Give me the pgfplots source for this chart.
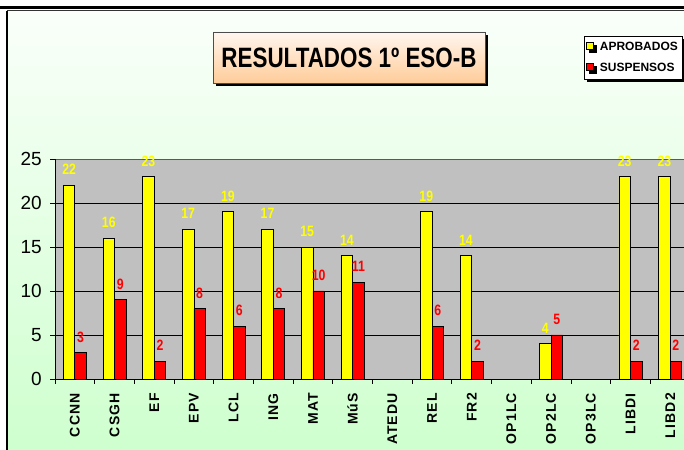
\documentclass[border=0pt]{standalone}
\usepackage{fontspec}
\setmainfont{Liberation Sans}
\usepackage{graphicx}
\usepackage{pgfplots}
\pgfplotsset{compat=1.18}
\usetikzlibrary{shadows}

\definecolor{plotgray}{RGB}{192,192,192}
\definecolor{barY}{RGB}{255,255,0}
\definecolor{barR}{RGB}{255,0,0}
\definecolor{bgtop}{RGB}{250,255,250}
\definecolor{bgbot}{RGB}{204,255,204}
\definecolor{peachtop}{RGB}{255,246,238}
\definecolor{peachbot}{RGB}{255,204,153}

\begin{document}
\begin{tikzpicture}
\useasboundingbox (0pt,0pt) rectangle (684pt,449pt);
\clip (0pt,0pt) rectangle (684pt,449pt);
\fill[white] (0pt,0pt) rectangle (684pt,449pt);
% chart area with gradient
\shade[top color=bgtop, bottom color=bgbot] (7pt,-20pt) rectangle (700pt,438pt);
\draw[black, line width=2pt] (7pt,-20pt) -- (7pt,438pt);
\draw[gray!40!black, line width=1pt] (7pt,438pt) -- (700pt,438pt);
\draw[black, line width=2.2pt] (0pt,441.5pt) -- (684pt,441.5pt);
% title box
\fill[black] (216pt,363pt) rectangle (488pt,414pt);
\shadedraw[top color=peachtop, bottom color=peachbot, draw=gray!60!black, line width=0.8pt]
  (213pt,366pt) rectangle (485pt,417pt);
\node at (349pt,391pt) {\fontsize{28}{28}\selectfont\bfseries\scalebox{0.8}[1]{RESULTADOS 1º ESO-B}};

\begin{axis}[
    at={(55pt,70pt)}, anchor=south west,
    scale only axis, width=635pt, height=220pt,
    xmin=-0.5, xmax=15.5, ymin=0, ymax=25,
    ybar=0pt, bar width=11.5pt,
    axis background/.style={fill=plotgray, draw=gray!70!black, line width=0.8pt},
    axis x line*=bottom, axis y line*=left,
    axis line style={black, line width=0.8pt},
    ymajorgrids, grid style={black, line width=0.7pt},
    ytick={0,5,10,15,20}, extra y ticks={25}, extra y tick style={grid=none},
    xtick={-0.5,0.5,...,15.5}, xticklabels={},
    extra x ticks={0,1,...,15},
    extra x tick labels={CCNN,CSGH,EF,EPV,LCL,ING,MAT,MúS,ATEDU,REL,FR2,OP1LC,OP2LC,OP3LC,LIBDI,LIBD2},
    extra x tick style={major tick length=0pt},
    tick pos=left, tick align=outside, major tick length=5pt,
    tick style={black, line width=0.8pt},
    /pgf/number format/assume math mode=true,
    yticklabel style={font=\fontsize{19}{19}\selectfont, inner sep=0pt, anchor=east, xshift=-8pt},
    xticklabel style={font=\fontsize{14}{14}\selectfont\bfseries\addfontfeature{LetterSpace=8}, rotate=90, anchor=east, inner sep=0pt},
    xticklabel shift=14pt,
    nodes near coords={\scalebox{0.82}[1]{\pgfmathprintnumber{\pgfplotspointmeta}}},
    every node near coord/.append style={font=\fontsize{15}{15}\selectfont\bfseries, anchor=south, inner sep=0pt, yshift=10pt},
    legend cell align=left,
    legend style={at={(axis description cs:0.833,1.559)}, anchor=north west,
      draw=black, line width=0.6pt, fill=white,
      font=\fontsize{12}{12}\selectfont\bfseries,
      drop shadow={shadow xshift=3pt, shadow yshift=-3pt, fill=black, opacity=1},
      /tikz/every odd column/.append style={column sep=4pt},
      row sep=7pt, inner xsep=2pt, inner ysep=4pt},
  ]
  \addplot[fill=barY, draw=black, line width=0.8pt,
    every node near coord/.append style={text=barY},
    legend image code/.code={\draw[fill=barY, draw=black, line width=0.6pt] (0pt,-2.5pt) rectangle (7pt,4.5pt);}]
    table {
      x y
      0 22
      1 16
      2 23
      3 17
      4 19
      5 17
      6 15
      7 14
      9 19
      10 14
      12 4
      14 23
      15 23
    };
  \addlegendentry{APROBADOS}
  \addplot[fill=barR, draw=black, line width=0.8pt,
    every node near coord/.append style={text=barR},
    legend image code/.code={\draw[fill=barR, draw=black, line width=0.6pt] (0pt,-2.5pt) rectangle (7pt,4.5pt);}]
    table {
      x y
      0 3
      1 9
      2 2
      3 8
      4 6
      5 8
      6 10
      7 11
      9 6
      10 2
      12 5
      14 2
      15 2
    };
  \addlegendentry{SUSPENSOS}
\end{axis}
\end{tikzpicture}
\end{document}
